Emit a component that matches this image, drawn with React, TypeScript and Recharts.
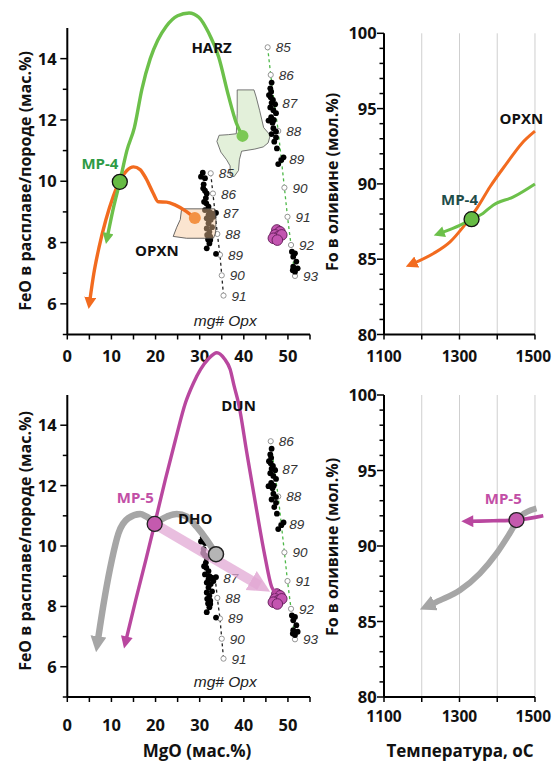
import React from "react";
import { ComposedChart, XAxis, YAxis, Line, Scatter, ReferenceLine } from "recharts";

type P = { x: number; y: number };
const toPts = (rows: number[][]): P[] => rows.map(([x, y]) => ({ x, y }));

// axes
const mgoTicks = [0, 5, 10, 15, 20, 25, 30, 35, 40, 45, 50, 55];
const feoTicks = [5, 6, 7, 8, 9, 10, 11, 12, 13, 14];
const foTicks = [80, 81, 82, 83, 84, 85, 86, 87, 88, 89, 90, 91, 92, 93, 94, 95, 96, 97, 98, 99, 100];
const tempTicks = [1100, 1200, 1300, 1400, 1500];
const tempGrid = [1200, 1300, 1400, 1500];

// top left: MP-4 melt paths (FeO vs MgO)
const harzCurve = toPts([[9.1, 8.2], [10.4, 9.1], [11.9, 9.98], [13.5, 11.0], [15.2, 11.75], [16.9, 13.0], [18.8, 14.0], [20.5, 14.6], [22.4, 15.05], [25.0, 15.4], [27.6, 15.49], [29.8, 15.35], [32.0, 14.85], [34.3, 14.05], [36.5, 12.8], [38.3, 11.9], [39.7, 11.48]]);
const opxnCurve = toPts([[5.1, 6.1], [6.0, 6.98], [7.2, 7.85], [8.7, 8.72], [10.4, 9.5], [12.0, 10.05], [13.5, 10.35], [15.0, 10.47], [16.5, 10.38], [17.8, 10.1], [19.5, 9.6], [20.6, 9.33], [22.5, 9.32], [24.5, 9.22], [26.6, 9.05], [28.9, 8.8]]);
const harzField = toPts([[38.5, 12.98], [42.3, 12.98], [42.8, 12.75], [43.6, 12.3], [44.5, 11.75], [46.0, 11.5], [45.5, 11.25], [44.4, 11.12], [42.5, 11.05], [39.5, 10.98], [39.0, 10.7], [38.8, 10.35], [37.8, 10.15], [36.9, 10.2], [36.9, 10.5], [36.1, 10.7], [34.8, 10.95], [33.9, 11.3], [34.4, 11.5], [36.5, 11.52], [38.3, 11.55], [38.5, 12.2], [38.5, 12.98]]);
const opxnField = toPts([[25.9, 9.1], [33.4, 9.1], [33.7, 8.75], [33.6, 8.3], [33.1, 8.14], [27.0, 8.14], [24.0, 8.2], [24.8, 8.5], [25.6, 8.75], [25.9, 9.1]]);
const mp4Point = toPts([[11.9, 9.98]]);
const harzEnd = toPts([[39.7, 11.48]]);
const opxnEnd = toPts([[28.9, 8.8]]);

// mg# Opx isopleths
const isoOpxn = [
  { x: 32.5, y: 10.26, n: 85 }, { x: 33.0, y: 9.6, n: 86 }, { x: 33.5, y: 8.95, n: 87 }, { x: 34.0, y: 8.28, n: 88 },
  { x: 34.6, y: 7.6, n: 89 }, { x: 35.0, y: 6.93, n: 90 }, { x: 35.4, y: 6.27, n: 91 },
];
const isoHarz = [
  { x: 45.4, y: 14.37, n: 85 }, { x: 46.1, y: 13.47, n: 86 }, { x: 46.9, y: 12.55, n: 87 }, { x: 47.8, y: 11.64, n: 88 },
  { x: 48.5, y: 10.72, n: 89 }, { x: 49.2, y: 9.79, n: 90 }, { x: 49.9, y: 8.84, n: 91 }, { x: 50.7, y: 7.92, n: 92 },
  { x: 51.6, y: 6.91, n: 93 },
];
const isoOpxnLow = isoOpxn.filter((d) => d.n >= 87);
const isoHarzLow = isoHarz.filter((d) => d.n >= 86);

// rock analyses
const opxRocks = toPts([[30.7, 10.28], [30.3, 10.15], [31.2, 10.1], [30.9, 9.9], [30.8, 9.77], [31.2, 9.69], [31.6, 9.6], [31.4, 9.45], [31.0, 9.33], [31.5, 9.28], [32.0, 9.17], [31.2, 9.06], [32.2, 9.0], [32.7, 8.95], [33.7, 8.97], [32.0, 8.9], [31.6, 8.79], [32.5, 8.74], [33.1, 8.84], [32.0, 8.63], [32.8, 8.5], [31.6, 8.46], [32.2, 8.35], [31.7, 8.25], [32.4, 8.19], [32.4, 8.08], [31.9, 8.1], [32.2, 7.97], [31.6, 7.81], [33.7, 7.63]]);
const harzRocks = toPts([[46.3, 13.22], [46.0, 13.03], [46.2, 12.92], [45.7, 12.81], [46.1, 12.74], [46.6, 12.65], [46.3, 12.56], [47.1, 12.51], [46.0, 12.41], [46.7, 12.32], [47.3, 12.22], [46.2, 12.09], [46.8, 12.0], [45.6, 11.98], [46.5, 11.91], [46.7, 11.73], [47.3, 11.62], [46.3, 11.54], [47.3, 11.43], [46.9, 11.29], [47.5, 11.07], [49.0, 10.78], [48.5, 10.69], [47.8, 10.56]]);
const dunRocks = toPts([[50.9, 7.7], [51.6, 7.65], [51.2, 7.54], [51.9, 7.38], [51.2, 7.21], [52.2, 7.16], [51.6, 7.05], [51.1, 7.1]]);
const mp5Rocks = toPts([[47.5, 8.41], [48.2, 8.35], [47.1, 8.25], [47.8, 8.19], [46.7, 8.14], [48.6, 8.25], [47.6, 8.08]]);

// bottom left: MP-5 paths
const dhoCurve = toPts([[6.9, 6.85], [7.4, 7.33], [8.5, 8.32], [10.1, 9.54], [11.6, 10.42], [13.8, 10.92], [16.5, 11.06], [18.0, 10.97], [20.0, 10.8], [22.5, 10.97], [24.8, 11.06], [27.1, 10.97], [29.3, 10.64], [31.6, 10.2], [33.7, 9.73]]);
const dunCurve = toPts([[13.3, 6.88], [15.5, 8.21], [17.8, 9.54], [19.8, 10.73], [22.2, 12.19], [24.5, 13.51], [26.8, 14.75], [28.6, 15.4], [30.2, 15.85], [32.0, 16.2], [33.9, 16.4], [35.6, 16.2], [36.9, 15.85], [37.8, 15.3], [38.8, 14.73], [40.7, 13.07], [42.9, 11.19], [44.8, 9.65], [46.3, 8.65], [47.2, 8.45]]);
const mp5Trend = toPts([[19.8, 10.73], [43.6, 8.69]]);
const mp5Point = toPts([[19.8, 10.73]]);
const dhoEnd = toPts([[33.7, 9.73]]);

// right: Fo in olivine vs temperature
const opxnFo = toPts([[1178, 84.72], [1231, 85.38], [1275, 86.15], [1310, 87.15], [1346, 88.37], [1381, 89.81], [1425, 91.36], [1465, 92.69], [1500, 93.5]]);
const harzFo = toPts([[1251, 86.75], [1302, 87.26], [1332, 87.66], [1362, 88.04], [1389, 88.59], [1443, 89.14], [1500, 90.0]]);
const mp4Fo = toPts([[1332, 87.66]]);
const dhoFo = toPts([[1222, 86.1], [1248, 86.4], [1301, 87.07], [1354, 88.18], [1398, 89.5], [1433, 90.83], [1460, 91.93], [1504, 92.49]]);
const dunFo = toPts([[1327, 91.64], [1390, 91.67], [1451, 91.72], [1522, 92.0]]);
const mp5Fo = toPts([[1451, 91.72]]);

// annotations
const tagsA = [{ x: 32.7, y: 14.39, text: "HARZ" }, { x: 20.3, y: 7.76, text: "OPXN" }];
const mp4TagA = [{ x: 7.4, y: 10.59, text: "MP-4" }];
const tagsB = [{ x: 38.8, y: 14.67, text: "DUN" }, { x: 29.0, y: 10.92, text: "DHO" }];
const mp5TagB = [{ x: 15.4, y: 11.63, text: "MP-5" }];
const captionA = [{ x: 35.8, y: 5.47, text: "mg# Opx" }];
const captionB = [{ x: 35.8, y: 5.51, text: "mg# Opx" }];
const tagsC = [{ x: 1464, y: 94.35, text: "OPXN" }];
const mp4TagC = [{ x: 1300, y: 88.97, text: "MP-4" }];
const mp5TagD = [{ x: 1416, y: 93.2, text: "MP-5" }];

const GREEN = "#6cc04a";
const ORANGE = "#f26b1f";
const MAGENTA = "#b9479f";
const GRAY = "#a6a6a6";
const PINK = "#e2a8d4";
const FONT = '"Open Sans", "DejaVu Sans", sans-serif';
const ITAL = '"Liberation Sans", Arial, sans-serif';

// tick with label kept inside the chart's right edge
const xTick = (show: (v: number) => boolean, dy: number, size: number, maxRight = 9999) => (p: any) => {
  const v = p.payload.value;
  const half = (String(v).length * 0.572 * size) / 2;
  const overflow = p.x + half > maxRight;
  return (
    <g>
      <line x1={p.x} x2={p.x} y1={p.y} y2={p.y + 5} stroke="#000" strokeWidth={1.5} />
      {show(v) ? (
        <text x={overflow ? maxRight : p.x} y={p.y + dy} textAnchor={overflow ? "end" : "middle"} fontFamily={FONT} fontWeight={700} fontSize={size} fill="#111">
          {v}
        </text>
      ) : null}
    </g>
  );
};

const yTick = (every: number, gap: number) => (p: any) => {
  const v = p.payload.value;
  const major = v % every === 0;
  return (
    <g>
      <line x1={p.x} x2={p.x - (major ? 7 : 4.5)} y1={p.y} y2={p.y} stroke="#000" strokeWidth={1.5} />
      {major ? (
        <text x={p.x - gap} y={p.y + 6} textAnchor="end" fontFamily={FONT} fontWeight={700} fontSize={16.5} fill="#111">
          {v}
        </text>
      ) : null}
    </g>
  );
};

const blank = () => <g />;
const disc = (r: number, fill: string, stroke = "none", sw = 0) => (p: any) => (
  <circle cx={p.cx} cy={p.cy} r={r} fill={fill} stroke={stroke} strokeWidth={sw} />
);
const isoMark = (p: any) => (
  <g>
    <circle cx={p.cx} cy={p.cy} r={2.6} fill="#fff" stroke="#8a8a8a" strokeWidth={0.9} />
    <text x={p.cx + 8} y={p.cy + 5} fontFamily={ITAL} fontStyle="italic" fontSize={13.5} fill="#333">
      {p.payload.n}
    </text>
  </g>
);
const tag = (color: string) => (p: any) => (
  <text x={p.cx} y={p.cy} textAnchor="middle" dominantBaseline="central" fontFamily={FONT} fontWeight={700} fontSize={15} fill={color}>
    {p.payload.text}
  </text>
);
const caption = (p: any) => (
  <text x={p.cx} y={p.cy} textAnchor="middle" dominantBaseline="central" fontFamily={ITAL} fontStyle="italic" fontSize={15.5} fill="#222">
    {p.payload.text}
  </text>
);

const curveProps = { type: "monotone" as const, dataKey: "y", dot: false, activeDot: false, isAnimationActive: false };

const leftX = (dy: number, h: number) => (
  <XAxis type="number" dataKey="x" domain={[0, 55]} ticks={mgoTicks} interval={0} height={h} axisLine={{ stroke: "#000", strokeWidth: 2 }} tickLine={false} tickSize={0} tickMargin={0} tick={xTick((v) => v % 10 === 0, dy, 16.5)} />
);
const rightX = (dy: number, h: number) => (
  <XAxis type="number" dataKey="x" domain={[1100, 1530]} ticks={tempTicks} interval={0} height={h} axisLine={false} tickLine={false} tickSize={0} tickMargin={0} tick={xTick((v) => v % 200 === 1100 % 200, dy, 15.5, 231)} />
);
const rightY = (
  <YAxis type="number" dataKey="y" domain={[80, 100]} ticks={foTicks} interval={0} width={64} axisLine={{ stroke: "#000", strokeWidth: 2 }} tickLine={false} tickSize={0} tickMargin={0} tick={yTick(5, 7.3)} />
);

function Markers() {
  const heads: [string, string, number, number][] = [
    ["aG", GREEN, 12, 11],
    ["aO", ORANGE, 12, 12],
    ["aM", MAGENTA, 13, 12],
    ["aGr", GRAY, 16, 16],
  ];
  return (
    <svg width={0} height={0} style={{ position: "absolute" }}>
      <defs>
        {heads.map(([id, c, w, h]) => (
          <marker key={id} id={id} viewBox="0 0 10 10" refX={3} refY={5} markerWidth={w} markerHeight={h} markerUnits="userSpaceOnUse" orient="auto-start-reverse">
            <path d="M0,0 L10,5 L0,10 Z" fill={c} />
          </marker>
        ))}
        <marker id="aPk" viewBox="0 0 10 10" refX={4.5} refY={5} markerWidth={22} markerHeight={24} markerUnits="userSpaceOnUse" orient="auto">
          <path d="M0,0 L10,5 L0,10 Z" fill={PINK} fillOpacity={0.85} />
        </marker>
      </defs>
    </svg>
  );
}

function rockLayers(opxIso: typeof isoOpxn, harzIso: typeof isoHarz, z: number) {
  return [
    <Line key="ho" data={harzIso} type="linear" dataKey="y" stroke="#4db848" strokeWidth={1.3} strokeDasharray="3 3" dot={false} activeDot={false} isAnimationActive={false} zIndex={z} />,
    <Line key="oo" data={opxIso} type="linear" dataKey="y" stroke="#222" strokeWidth={1.3} strokeDasharray="3 3" dot={false} activeDot={false} isAnimationActive={false} zIndex={z + 1} />,
    <Scatter key="hi" data={harzIso} shape={isoMark} isAnimationActive={false} zIndex={z + 2} />,
    <Scatter key="oi" data={opxIso} shape={isoMark} isAnimationActive={false} zIndex={z + 3} />,
    <Scatter key="r1" data={opxRocks} shape={disc(2.9, "#000")} isAnimationActive={false} zIndex={z + 4} />,
    <Scatter key="r2" data={harzRocks} shape={disc(2.9, "#000")} isAnimationActive={false} zIndex={z + 5} />,
    <Scatter key="r3" data={dunRocks} shape={disc(2.9, "#000")} isAnimationActive={false} zIndex={z + 6} />,
  ];
}

function PanelA() {
  return (
    <ComposedChart width={320} height={375} margin={{ top: 9.6, right: 10, bottom: 0, left: 0 }}>
      {leftX(27.2, 40.5)}
      <YAxis type="number" dataKey="y" domain={[5, 15.6]} ticks={feoTicks} interval={0} width={67.3} axisLine={false} tickLine={false} tickSize={0} tickMargin={0} tick={yTick(2, 10.6)} />
      <ReferenceLine segment={[{ x: 0, y: 5 }, { x: 0, y: 15 }]} stroke="#000" strokeWidth={2} zIndex={600} />
      <Scatter data={harzField} shape={blank} line={{ stroke: "#555", strokeWidth: 0.8, fill: "#e3f0da" }} isAnimationActive={false} zIndex={601} />
      {rockLayers(isoOpxn, isoHarz, 602)}
      <Scatter data={opxnField} shape={blank} line={{ stroke: "#444", strokeWidth: 0.8, fill: "#f6c596", fillOpacity: 0.45 }} isAnimationActive={false} zIndex={610} />
      <Scatter data={mp5Rocks} shape={disc(5.3, "#c355b0", "#6b2160", 1)} isAnimationActive={false} zIndex={611} />
      <Line {...curveProps} data={opxnCurve} stroke={ORANGE} strokeWidth={3.4} markerStart="url(#aO)" zIndex={612} />
      <Line {...curveProps} data={harzCurve} stroke={GREEN} strokeWidth={3.4} markerStart="url(#aG)" zIndex={613} />
      <Scatter data={opxnEnd} shape={disc(6, "#f39244")} isAnimationActive={false} zIndex={614} />
      <Scatter data={harzEnd} shape={disc(6, "#7cc855")} isAnimationActive={false} zIndex={615} />
      <Scatter data={mp4Point} shape={disc(7.5, "#66bb44", "#111", 1.3)} isAnimationActive={false} zIndex={616} />
      <Scatter data={tagsA} shape={tag("#111")} isAnimationActive={false} zIndex={617} />
      <Scatter data={mp4TagA} shape={tag("#2e9b45")} isAnimationActive={false} zIndex={618} />
      <Scatter data={captionA} shape={caption} isAnimationActive={false} zIndex={619} />
    </ComposedChart>
  );
}

function PanelB() {
  return (
    <ComposedChart width={320} height={402} margin={{ top: 6.7, right: 10, bottom: 0, left: 0 }}>
      {leftX(34, 45)}
      <YAxis type="number" dataKey="y" domain={[5, 16.6]} ticks={feoTicks} interval={0} width={67.3} axisLine={false} tickLine={false} tickSize={0} tickMargin={0} tick={yTick(2, 10.6)} />
      <ReferenceLine segment={[{ x: 0, y: 5 }, { x: 0, y: 15 }]} stroke="#000" strokeWidth={2} zIndex={600} />
      {rockLayers(isoOpxnLow, isoHarzLow, 602)}
      <Line {...curveProps} data={dhoCurve} stroke={GRAY} strokeWidth={6.5} markerStart="url(#aGr)" zIndex={610} />
      <Line {...curveProps} data={mp5Trend} type="linear" stroke={PINK} strokeOpacity={0.75} strokeWidth={10} markerEnd="url(#aPk)" zIndex={611} />
      <Scatter data={mp5Rocks} shape={disc(5.3, "#c355b0", "#6b2160", 1)} isAnimationActive={false} zIndex={612} />
      <Line {...curveProps} data={dunCurve} stroke={MAGENTA} strokeWidth={3.4} markerStart="url(#aM)" zIndex={613} />
      <Scatter data={dhoEnd} shape={disc(7.5, "#b5b5b5", "#222", 1.5)} isAnimationActive={false} zIndex={614} />
      <Scatter data={mp5Point} shape={disc(7.5, "#c45aae", "#222", 1.3)} isAnimationActive={false} zIndex={615} />
      <Scatter data={tagsB} shape={tag("#111")} isAnimationActive={false} zIndex={616} />
      <Scatter data={mp5TagB} shape={tag("#c24fa6")} isAnimationActive={false} zIndex={617} />
      <Scatter data={captionB} shape={caption} isAnimationActive={false} zIndex={618} />
    </ComposedChart>
  );
}

function PanelC() {
  return (
    <ComposedChart width={232} height={375} margin={{ top: 33.3, right: 5.7, bottom: 0, left: 0 }}>
      {rightX(27.2, 40.5)}
      {rightY}
      {tempGrid.map((t) => (
        <ReferenceLine key={t} x={t} stroke="#cfcfcf" strokeWidth={1} zIndex={100} />
      ))}
      <ReferenceLine segment={[{ x: 1100, y: 80 }, { x: 1500, y: 80 }]} stroke="#000" strokeWidth={2} zIndex={600} />
      <Line {...curveProps} data={opxnFo} stroke={ORANGE} strokeWidth={3} markerStart="url(#aO)" zIndex={610} />
      <Line {...curveProps} data={harzFo} stroke={GREEN} strokeWidth={3} markerStart="url(#aG)" zIndex={611} />
      <Scatter data={mp4Fo} shape={disc(7.5, "#66bb44", "#111", 1.3)} isAnimationActive={false} zIndex={612} />
      <Scatter data={tagsC} shape={tag("#111")} isAnimationActive={false} zIndex={613} />
      <Scatter data={mp4TagC} shape={tag("#1f4d4a")} isAnimationActive={false} zIndex={614} />
    </ComposedChart>
  );
}

function PanelD() {
  return (
    <ComposedChart width={232} height={402} margin={{ top: 55, right: 5.7, bottom: 0, left: 0 }}>
      {rightX(24.7, 45)}
      {rightY}
      {tempGrid.map((t) => (
        <ReferenceLine key={t} x={t} stroke="#cfcfcf" strokeWidth={1} zIndex={100} />
      ))}
      <ReferenceLine segment={[{ x: 1100, y: 80 }, { x: 1500, y: 80 }]} stroke="#000" strokeWidth={2} zIndex={600} />
      <Line {...curveProps} data={dhoFo} stroke={GRAY} strokeWidth={6} markerStart="url(#aGr)" zIndex={610} />
      <Line {...curveProps} data={dunFo} stroke={MAGENTA} strokeWidth={3.6} markerStart="url(#aM)" zIndex={611} />
      <Scatter data={mp5Fo} shape={disc(7.5, "#c45aae", "#222", 1.3)} isAnimationActive={false} zIndex={612} />
      <Scatter data={mp5TagD} shape={tag("#c24fa6")} isAnimationActive={false} zIndex={613} />
    </ComposedChart>
  );
}

const titleStyle = (x: number, y: number, rotate: boolean, size: number): React.CSSProperties => ({
  position: "absolute",
  left: x,
  top: y,
  transform: `translate(-50%, -50%)${rotate ? " rotate(-90deg)" : ""}`,
  whiteSpace: "nowrap",
  fontFamily: FONT,
  fontWeight: 700,
  fontSize: size,
  color: "#111",
  lineHeight: 1.1,
});

export default function App() {
  return (
    <div style={{ position: "absolute", left: 0, top: 0, width: 552, height: 762, background: "#fff", overflow: "hidden" }}>
      <Markers />
      <div style={{ position: "absolute", left: 0, top: 0 }}>
        <PanelA />
      </div>
      <div style={{ position: "absolute", left: 320, top: 0 }}>
        <PanelC />
      </div>
      <div style={{ position: "absolute", left: 0, top: 340 }}>
        <PanelB />
      </div>
      <div style={{ position: "absolute", left: 320, top: 340 }}>
        <PanelD />
      </div>
      <div style={titleStyle(26, 181, true, 16)}>FeO в расплаве/породе (мас.%)</div>
      <div style={titleStyle(26, 541, true, 16)}>FeO в расплаве/породе (мас.%)</div>
      <div style={titleStyle(333, 182, true, 16)}>Fo в оливине (мол.%)</div>
      <div style={titleStyle(333, 547, true, 16)}>Fo в оливине (мол.%)</div>
      <div style={titleStyle(197, 750.5, false, 17)}>MgO (мас.%)</div>
      <div style={titleStyle(460, 750.5, false, 17)}>Температура, оС</div>
    </div>
  );
}
